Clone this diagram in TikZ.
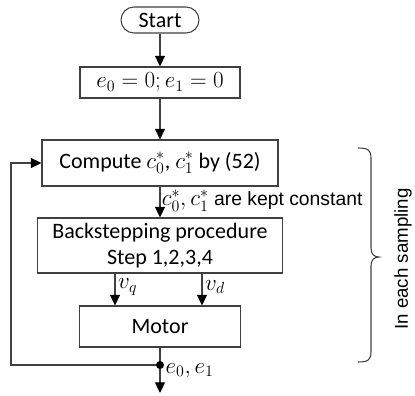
\documentclass[tikz,border=0pt]{standalone}
\usepackage{fontspec}
\setmainfont{Carlito}
\newfontfamily\arialfont{Liberation Sans}
\usepackage{xcolor}
\usetikzlibrary{arrows.meta}
\definecolor{line}{HTML}{404040}
\tikzset{
  flowBox/.style={draw=line, line width=0.8pt, rectangle, inner sep=0pt, align=center,
    font=\fontsize{16.5}{20}\selectfont},
  startBox/.style={flowBox, rounded corners=9.75pt},
  flowArrow/.style={draw=line, line width=0.8pt, -{Triangle[length=8pt,width=7.5pt,color=black]}},
  flowLine/.style={draw=line, line width=0.8pt},
  sideLabel/.style={font=\arialfont\fontsize{14.5}{17}\selectfont, inner sep=1pt},
  mathLabel/.style={font=\fontsize{17}{19}\selectfont, inner sep=1pt},
  braceLine/.style={draw=line, line width=0.8pt}
}

\begin{document}
\begin{tikzpicture}[x=0.75pt, y=-0.75pt]
  \useasboundingbox (0,0) rectangle (415,396);

  % blocks
  \node[startBox, minimum width=58.5pt, minimum height=19.5pt] (start) at (160,20) {Start};
  \node[flowBox, minimum width=120pt, minimum height=23.25pt] (init) at (160,82.5) {$e_0=0; e_1=0$};
  \node[flowBox, minimum width=177pt, minimum height=34.5pt] (compute) at (160,163) {Compute $c_0^*$, $c_1^*$ by (52)};
  \node[flowBox, minimum width=183.75pt, minimum height=41.25pt] (backstep) at (160,245.5)
    {Backstepping procedure\\Step 1,2,3,4};
  \node[flowBox, minimum width=120.75pt, minimum height=30.75pt] (motor) at (160,326.5) {Motor};

  \coordinate (tap) at (160,365);
  \coordinate (loopLeft) at (11,365);
  \coordinate (outEnd) at (160,393);

  % connectors
  \draw[flowArrow] (start) -- (init);
  \draw[flowArrow] (init) -- (compute);
  \draw[flowArrow] (compute) -- (backstep)
    node[sideLabel, pos=0.45, anchor=west]
    {{\normalfont\fontsize{16.5}{18}\selectfont$c_0^*, c_1^*$} are kept constant};
  \draw[flowArrow] ([xshift=-33.75pt]backstep.south) -- ([xshift=-33.75pt]motor.north)
    node[mathLabel, pos=0.42, anchor=west, xshift=1pt] {$v_q$};
  \draw[flowArrow] ([xshift=31.5pt]backstep.south) -- ([xshift=31.5pt]motor.north)
    node[mathLabel, pos=0.42, anchor=west, xshift=1pt] {$v_d$};
  \draw[flowLine] (motor) -- (tap);
  \draw[flowArrow] (tap) -- (outEnd);
  \draw[flowArrow] (tap) -- (loopLeft) |- (compute.west);
  \fill[black] (tap) circle (3pt);
  \node[mathLabel, anchor=west, xshift=3pt, yshift=-4pt] (tapLabel) at (tap) {$e_0, e_1$};

  % sampling brace
  \coordinate (braceTop) at (358,148);
  \coordinate (braceTip) at (379,257);
  \coordinate (braceBot) at (358,362);
  \draw[braceLine] (braceTop) .. controls (368,148) and (371,150) .. (371,158)
    -- (371,248) .. controls (371,254) and (374,257) .. (braceTip)
    .. controls (374,257) and (371,260) .. (371,266)
    -- (371,352) .. controls (371,360) and (368,362) .. (braceBot);
  \node[font=\arialfont\fontsize{14}{17}\selectfont, rotate=90] (sampling) at (403,259) {In each sampling};
\end{tikzpicture}
\end{document}
